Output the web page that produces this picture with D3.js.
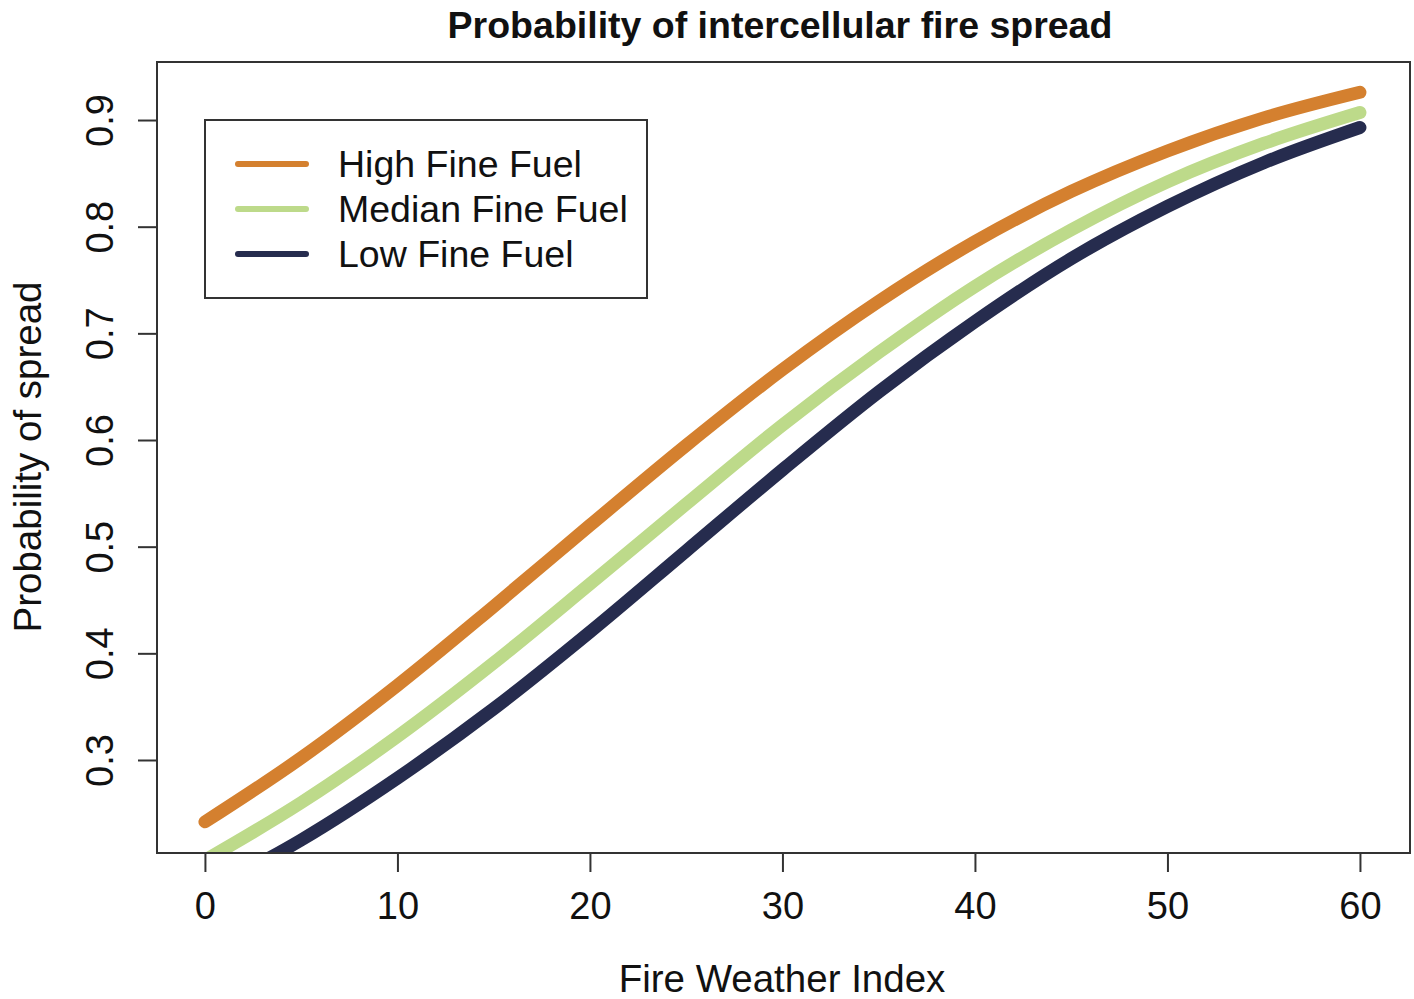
<!DOCTYPE html>
<html>
<head>
<meta charset="utf-8">
<script src="https://cdn.jsdelivr.net/npm/d3@7"></script>
<style>
  body { margin: 0; background: #fff; font-family: "Liberation Sans", Arial, sans-serif; }
</style>
</head>
<body>
<svg id="chart" width="1414" height="999"></svg>
<script>
// data
let fwi = [0, 5, 10, 15, 20, 25, 30, 35, 40, 45, 50, 55, 60];
let highFuel   = [0.242, 0.302, 0.370, 0.444, 0.520, 0.595, 0.666, 0.730, 0.786, 0.833, 0.871, 0.902, 0.926];
let medianFuel = [0.206, 0.260, 0.322, 0.391, 0.465, 0.540, 0.614, 0.682, 0.744, 0.797, 0.842, 0.878, 0.907];
let lowFuel    = [0.176, 0.225, 0.283, 0.348, 0.420, 0.496, 0.572, 0.645, 0.711, 0.770, 0.819, 0.860, 0.893];
let seriesNames = ["High Fine Fuel", "Median Fine Fuel", "Low Fine Fuel"];
let seriesColors = ["#D4802F", "#BDDA8A", "#262C4E"];
let xTicks = [0, 10, 20, 30, 40, 50, 60];
let yTicks = [0.3, 0.4, 0.5, 0.6, 0.7, 0.8, 0.9];

let margin = {top: 62, right: 4, bottom: 146, left: 157};
let width = 1414, height = 999;
let font = "Liberation Sans, Arial, sans-serif";

let svg = d3.select('#chart');

let x = d3.scaleLinear()
    .domain([-2.49, 62.6])
    .range([margin.left, width - margin.right]);

let y = d3.scaleLinear()
    .domain([0.2128, 0.9544])
    .range([height - margin.bottom, margin.top]);

let series = [highFuel, medianFuel, lowFuel].map((vals, i) => ({
    name: seriesNames[i],
    color: seriesColors[i],
    values: fwi.map((f, j) => ({x: f, y: vals[j]}))
}));

svg.append("defs").append("clipPath")
    .attr("id", "plotclip")
  .append("rect")
    .attr("x", margin.left)
    .attr("y", margin.top)
    .attr("width", width - margin.right - margin.left)
    .attr("height", height - margin.bottom - margin.top);

let line = d3.line()
    .x(d => x(d.x))
    .y(d => y(d.y))
    .curve(d3.curveMonotoneX);

svg.append("g")
    .attr("clip-path", "url(#plotclip)")
  .selectAll("path")
  .data(series)
  .join("path")
    .attr("fill", "none")
    .attr("stroke", d => d.color)
    .attr("stroke-width", 13)
    .attr("stroke-linecap", "round")
    .attr("stroke-linejoin", "round")
    .attr("d", d => line(d.values));

// box
svg.append("rect")
    .attr("x", margin.left)
    .attr("y", margin.top)
    .attr("width", width - margin.right - margin.left)
    .attr("height", height - margin.bottom - margin.top)
    .attr("fill", "none")
    .attr("stroke", "#333")
    .attr("stroke-width", 2);

let xAxis = g => g
    .attr("transform", `translate(0,${height - margin.bottom})`)
    .call(d3.axisBottom(x).tickValues(xTicks).tickFormat(d3.format("d"))
        .tickSize(19).tickPadding(20).tickSizeOuter(0))
    .call(g => g.select(".domain").remove())
    .call(g => g.selectAll(".tick line").attr("stroke", "#333").attr("stroke-width", 2))
    .call(g => g.selectAll(".tick text")
        .attr("font-size", 38)
        .attr("font-family", font)
        .attr("fill", "#111"));

let yAxis = g => g
    .attr("transform", `translate(${margin.left},0)`)
    .call(d3.axisLeft(y).tickValues(yTicks).tickFormat(d3.format(".1f"))
        .tickSize(19).tickSizeOuter(0))
    .call(g => g.select(".domain").remove())
    .call(g => g.selectAll(".tick line").attr("stroke", "#333").attr("stroke-width", 2))
    .call(g => g.selectAll(".tick text")
        .attr("font-size", 38)
        .attr("font-family", font)
        .attr("fill", "#111")
        .attr("text-anchor", "middle")
        .attr("dy", "0")
        .attr("transform", "translate(-44,0) rotate(-90)")
        .attr("x", 0)
        .attr("y", 0));

svg.append("g").call(xAxis);
svg.append("g").call(yAxis);

// titles
svg.append("text")
    .attr("x", 780)
    .attr("y", 38)
    .attr("text-anchor", "middle")
    .attr("font-size", 37.5)
    .attr("font-weight", "bold")
    .attr("font-family", font)
    .attr("fill", "#111")
    .text("Probability of intercellular fire spread");

svg.append("text")
    .attr("x", 782)
    .attr("y", 992)
    .attr("text-anchor", "middle")
    .attr("font-size", 38.5)
    .attr("font-family", font)
    .attr("fill", "#111")
    .text("Fire Weather Index");

svg.append("text")
    .attr("transform", "translate(41,457) rotate(-90)")
    .attr("text-anchor", "middle")
    .attr("font-size", 38.5)
    .attr("font-family", font)
    .attr("fill", "#111")
    .text("Probability of spread");

// legend
let legend = svg.append("g");
legend.append("rect")
    .attr("x", 205)
    .attr("y", 120)
    .attr("width", 442)
    .attr("height", 178)
    .attr("fill", "#fff")
    .attr("stroke", "#333")
    .attr("stroke-width", 2);

let items = legend.selectAll("g.item")
    .data(series)
  .join("g")
    .attr("class", "item")
    .attr("transform", (d, i) => `translate(0,${164 + i * 45})`);

items.append("line")
    .attr("x1", 238).attr("x2", 306)
    .attr("stroke", d => d.color)
    .attr("stroke-width", 6)
    .attr("stroke-linecap", "round");

items.append("text")
    .attr("x", 338)
    .attr("y", 13)
    .attr("font-size", 37.5)
    .attr("font-family", font)
    .attr("fill", "#111")
    .text(d => d.name);
</script>
</body>
</html>
